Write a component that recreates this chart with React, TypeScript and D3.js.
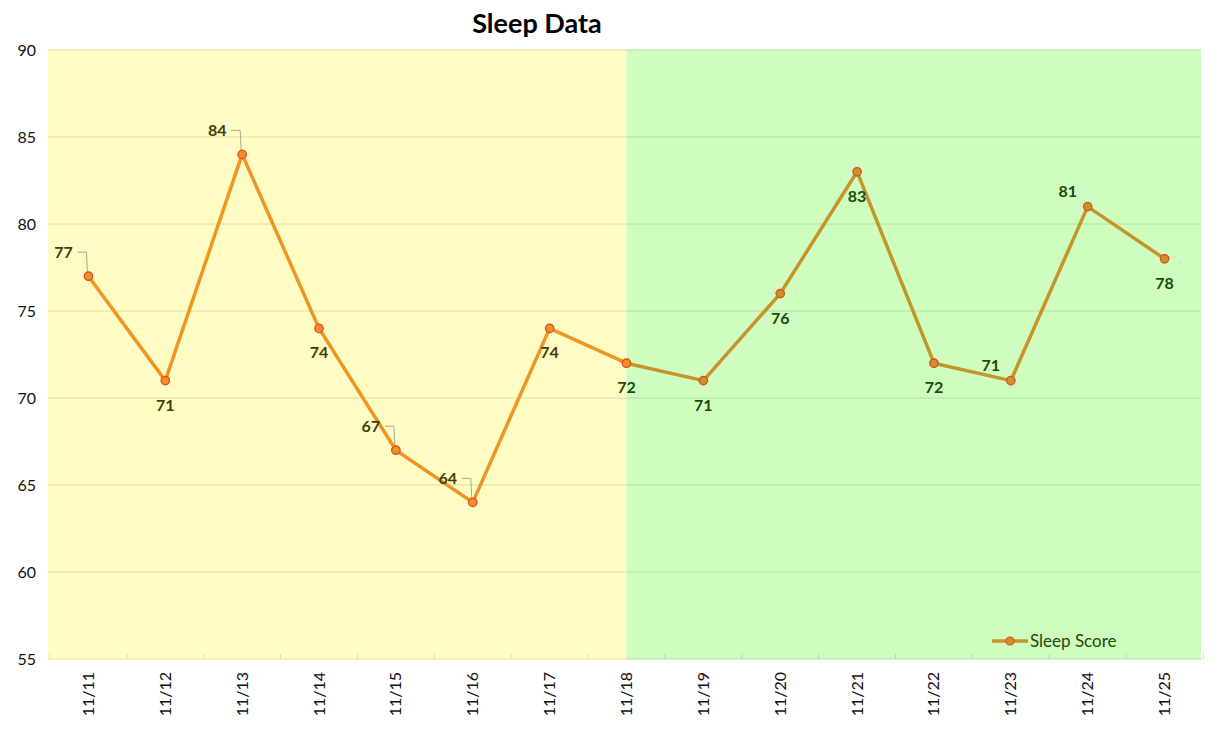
import * as d3 from "d3";

const days = ["11/11", "11/12", "11/13", "11/14", "11/15", "11/16", "11/17", "11/18", "11/19", "11/20", "11/21", "11/22", "11/23", "11/24", "11/25"];
const scores = [77, 71, 84, 74, 67, 64, 74, 72, 71, 76, 83, 72, 71, 81, 78];
// where each data label sits relative to its point
const labelSpots = ["leader", "below", "leader", "below", "leader", "leader", "below", "below", "below", "below", "below", "below", "above", "above", "below"];
const yTicks = [55, 60, 65, 70, 75, 80, 85, 90];

const W = 1219;
const H = 747;
const plot = { left: 48, right: 1201, top: 50, bottom: 659 };
const FONT = "Lato, 'Open Sans', sans-serif";

export default function App() {
  const x = d3.scaleBand<string>().domain(days).range([plot.left + 2, plot.right + 2]);
  const y = d3.scaleLinear().domain([55, 90]).range([plot.bottom, plot.top]);
  const cx = (d: string) => x(d)! + x.bandwidth() / 2;
  const split = cx("11/18");
  const splitIdx = days.indexOf("11/18");

  const line = d3
    .line<number>()
    .x((_, i) => cx(days[i]))
    .y((v) => y(v));

  const firstPart = scores.slice(0, splitIdx + 1);
  const secondPart = scores.slice(splitIdx);
  const secondLine = d3
    .line<number>()
    .x((_, i) => cx(days[i + splitIdx]))
    .y((v) => y(v));

  return (
    <svg width={W} height={H} style={{ display: "block", margin: -8 }} fontFamily={FONT}>
      <rect width={W} height={H} fill="#fff" />
      <text x={537} y={33} textAnchor="middle" fontSize={27} fontWeight={700} fill="#000">
        Sleep Data
      </text>

      {/* backgrounds */}
      <rect x={plot.left} y={plot.top} width={split - plot.left} height={plot.bottom - plot.top} fill="#FFFDC4" />
      <rect x={split} y={plot.top} width={plot.right - split} height={plot.bottom - plot.top} fill="#CFFDC0" />

      {/* grid */}
      {yTicks.map((t) => (
        <g key={t}>
          <line x1={plot.left} x2={split} y1={y(t)} y2={y(t)} stroke="#E2DE9C" strokeWidth={1} />
          <line x1={split} x2={plot.right} y1={y(t)} y2={y(t)} stroke="#B3DEA3" strokeWidth={1} />
          <text x={36} y={y(t) + 6} textAnchor="end" fontSize={16} fill="#111">
            {t}
          </text>
        </g>
      ))}

      {/* x ticks */}
      {days.concat(["end"]).map((d, i) => {
        const xx = plot.left + 2 + i * x.bandwidth();
        return (
          <line key={i} x1={xx} x2={xx} y1={plot.bottom - 5} y2={plot.bottom} stroke={xx <= split ? "#E2DE9C" : "#B3DEA3"} />
        );
      })}

      {days.map((d) => (
        <text
          key={d}
          transform={`translate(${cx(d) + 5.5},${plot.bottom + 13}) rotate(-90)`}
          textAnchor="end"
          fontSize={16}
          fill="#111"
        >
          {d}
        </text>
      ))}

      {/* lines */}
      <path d={line(firstPart)!} fill="none" stroke="#EF9524" strokeWidth={3.5} strokeLinejoin="round" />
      <path d={secondLine(secondPart)!} fill="none" stroke="#C4962A" strokeWidth={3.5} strokeLinejoin="round" />

      {/* leader lines */}
      {scores.map((v, i) =>
        labelSpots[i] === "leader" ? (
          <polyline
            key={"ld" + i}
            points={`${cx(days[i]) - 11},${y(v) - 24} ${cx(days[i]) - 2},${y(v) - 24} ${cx(days[i]) - 1},${y(v) - 4}`}
            fill="none"
            stroke="#A8A890"
            strokeWidth={1}
          />
        ) : null
      )}

      {/* markers */}
      {scores.map((v, i) => (
        <circle
          key={"m" + i}
          cx={cx(days[i])}
          cy={y(v)}
          r={4.2}
          fill={i <= splitIdx ? "#EF8F2A" : "#C4962A"}
          stroke="#E8481C"
          strokeWidth={1.3}
        />
      ))}

      {/* data labels */}
      {scores.map((v, i) => {
        const px = cx(days[i]);
        const py = y(v);
        let lx = px;
        let ly = py + 30;
        if (labelSpots[i] === "leader") {
          lx = px - 25;
          ly = py - 18;
        } else if (labelSpots[i] === "above") {
          lx = px - 20;
          ly = py - 10;
        }
        return (
          <text
            key={"l" + i}
            x={lx}
            y={ly}
            textAnchor="middle"
            fontSize={16}
            fontWeight={700}
            fill={i < splitIdx ? "#3F3F08" : "#1E4A0C"}
          >
            {v}
          </text>
        );
      })}

      {/* legend */}
      <line x1={992} x2={1028} y1={641} y2={641} stroke="#C4962A" strokeWidth={3.5} />
      <circle cx={1010} cy={641} r={4} fill="#C4962A" stroke="#E8481C" strokeWidth={1.2} />
      <text x={1030} y={647} fontSize={17} fill="#1E4A0C">
        Sleep Score
      </text>
    </svg>
  );
}
